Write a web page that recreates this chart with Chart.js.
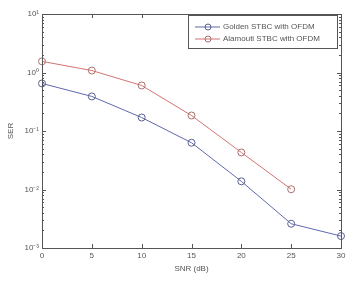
<!DOCTYPE html>
<html>
<head>
<meta charset="utf-8">
<script src="https://cdn.jsdelivr.net/npm/chart.js@4"></script>
<style>
  html, body { margin: 0; padding: 0; background: #fff; }
  #wrap { width: 358px; height: 282px; }
</style>
</head>
<body>
<div id="wrap"><canvas id="chart" width="358" height="282"></canvas></div>
<script>
const snr = [0, 5, 10, 15, 20, 25, 30];
const golden = [0.65, 0.39, 0.17, 0.063, 0.0138, 0.0026, 0.0016];
const alamouti = [1.55, 1.08, 0.6, 0.184, 0.043, 0.0101];
const xTicks = [0, 5, 10, 15, 20, 25, 30];
const yTicks = [10, 1, 0.1, 0.01, 0.001];
const yTickLabels = ["10\u00b9", "10\u2070", "10\u207b\u00b9", "10\u207b\u00b2", "10\u207b\u00b3"];

const textColor = "#555";
const font = "Liberation Sans";

// box + inward ticks, like the matlab axes
const axesBox = {
  id: "axesBox",
  afterDatasetsDraw(chart) {
    const { ctx, chartArea: a, scales } = chart;
    ctx.save();
    ctx.strokeStyle = "#555";
    ctx.lineWidth = 1;
    ctx.strokeRect(a.left + 0.5, a.top + 0.5, a.right - a.left, a.bottom - a.top);
    ctx.beginPath();
    xTicks.forEach(v => {
      const px = Math.round(scales.x.getPixelForValue(v)) + 0.5;
      ctx.moveTo(px, a.bottom); ctx.lineTo(px, a.bottom - 4);
      ctx.moveTo(px, a.top); ctx.lineTo(px, a.top + 4);
    });
    for (let e = -3; e < 1; e++) {
      for (let m = 1; m <= 9; m++) {
        const v = m * Math.pow(10, e);
        const py = Math.round(scales.y.getPixelForValue(v)) + 0.5;
        const len = m === 1 ? 4 : 2;
        ctx.moveTo(a.left, py); ctx.lineTo(a.left + len, py);
        ctx.moveTo(a.right, py); ctx.lineTo(a.right - len, py);
      }
    }
    ctx.stroke();

    // legend
    const lx = 188, ly = 15, lw = 149, lh = 33;
    ctx.fillStyle = "#fff";
    ctx.fillRect(lx, ly, lw, lh);
    ctx.strokeRect(lx + 0.5, ly + 0.5, lw, lh);
    chart.data.datasets.forEach((ds, i) => {
      const y = ly + 12 + i * 12;
      ctx.strokeStyle = ds.borderColor;
      ctx.beginPath();
      ctx.moveTo(lx + 7, y); ctx.lineTo(lx + 32, y);
      ctx.stroke();
      ctx.beginPath();
      ctx.arc(lx + 20, y, 3, 0, Math.PI * 2);
      ctx.strokeStyle = ds.pointBorderColor;
      ctx.stroke();
      ctx.fillStyle = textColor;
      ctx.font = "8px '" + font + "'";
      ctx.textBaseline = "middle";
      ctx.fillText(ds.label, lx + 35, y);
    });
    ctx.restore();
  }
};

new Chart(document.getElementById("chart"), {
  type: "line",
  data: {
    datasets: [
      {
        label: "Golden STBC with OFDM",
        data: snr.map((x, i) => ({ x, y: golden[i] })),
        borderColor: "rgb(95,105,175)",
        pointBorderColor: "rgb(90,95,140)",
        pointBackgroundColor: "rgba(0,0,0,0)",
        borderWidth: 1,
        pointRadius: 3.5,
        pointBorderWidth: 1,
        clip: false
      },
      {
        label: "Alamouti STBC with OFDM",
        data: alamouti.map((y, i) => ({ x: snr[i], y })),
        borderColor: "rgb(210,115,115)",
        pointBorderColor: "rgb(170,110,110)",
        pointBackgroundColor: "rgba(0,0,0,0)",
        borderWidth: 1,
        pointRadius: 3.5,
        pointBorderWidth: 1,
        clip: false
      }
    ]
  },
  options: {
    responsive: false,
    animation: false,
    layout: { padding: { top: 14, right: 17, left: 6, bottom: 8 } },
    plugins: { legend: { display: false }, tooltip: { enabled: false } },
    scales: {
      x: {
        type: "linear",
        min: 0, max: 30,
        afterBuildTicks: s => { s.ticks = xTicks.map(v => ({ value: v })); },
        afterFit: s => { s.height = 26; },
        grid: { display: false, drawTicks: false },
        border: { display: false },
        ticks: { color: textColor, font: { family: font, size: 8 }, padding: 3, maxRotation: 0 },
        title: { display: true, text: "SNR (dB)", color: textColor, font: { family: font, size: 8 }, padding: { top: 0, bottom: 0 } }
      },
      y: {
        type: "logarithmic",
        min: 0.001, max: 10,
        afterBuildTicks: s => { s.ticks = yTicks.map(v => ({ value: v })); },
        afterFit: s => { s.width = 36; },
        grid: { display: false, drawTicks: false },
        border: { display: false },
        ticks: {
          color: textColor, font: { family: font, size: 8 }, padding: 3,
          callback: v => yTickLabels[yTicks.indexOf(v)] || ""
        },
        title: { display: true, text: "SER", color: textColor, font: { family: font, size: 8 }, padding: 0 }
      }
    }
  },
  plugins: [axesBox]
});
</script>
</body>
</html>
